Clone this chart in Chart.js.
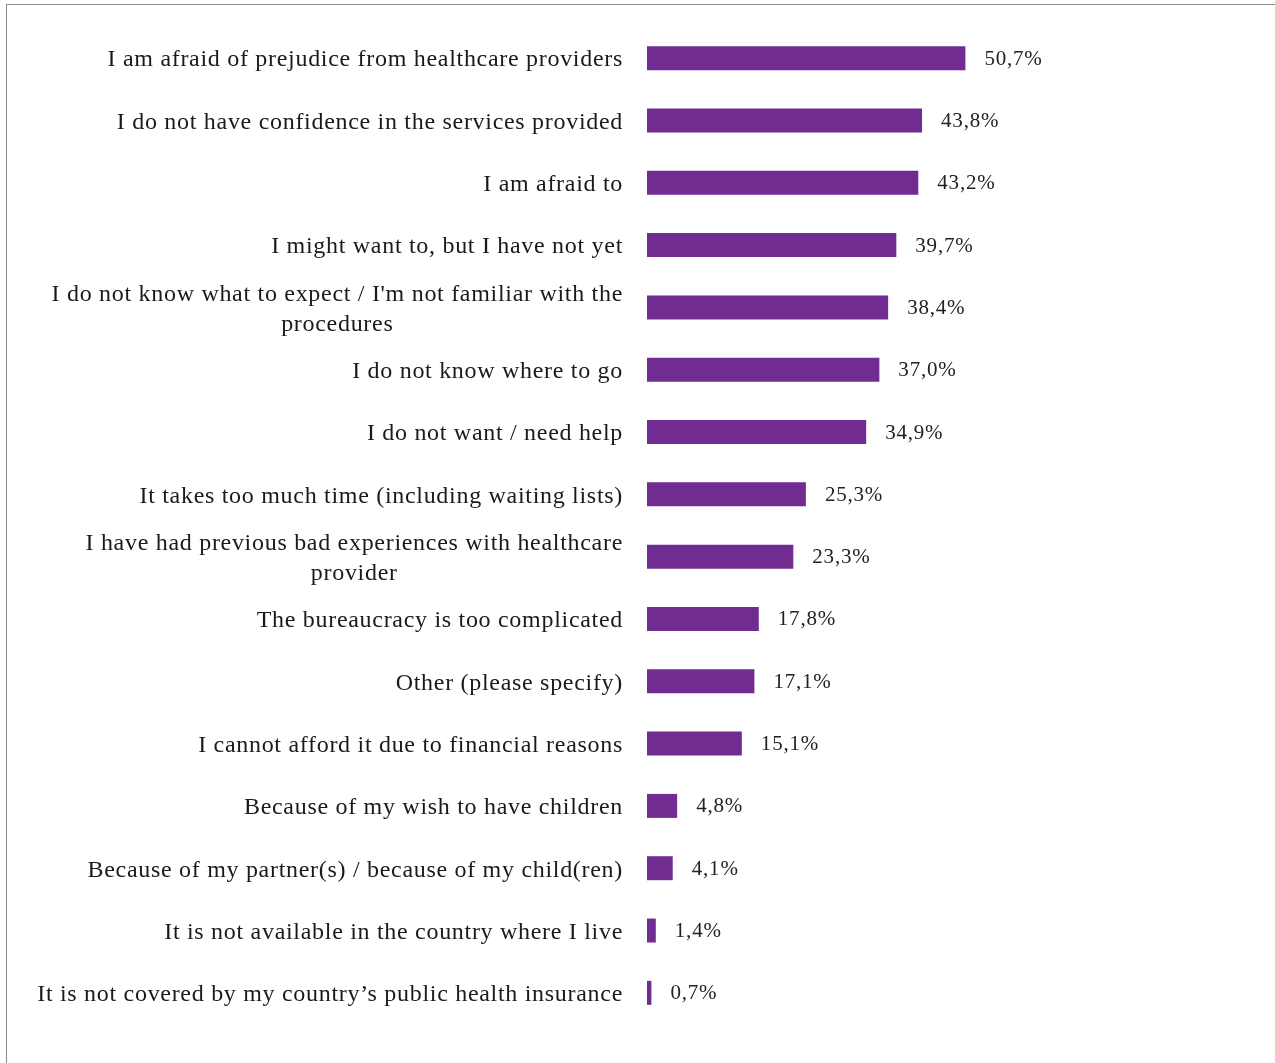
<!DOCTYPE html>
<html>
<head>
<meta charset="utf-8">
<script src="https://cdn.jsdelivr.net/npm/chart.js"></script>
<style>
  html, body { margin: 0; padding: 0; background: #fff; }
  #wrap { position: relative; width: 1275px; height: 1063px; overflow: hidden; }
  #frame {
    position: absolute; left: 6px; top: 4px; width: 1300px; height: 1100px;
    border-top: 1.5px solid #8a8a8a; border-left: 1.5px solid #8a8a8a;
  }
  canvas { position: absolute; left: 0; top: 0; }
</style>
</head>
<body>
<div id="wrap">
  <div id="frame"></div>
  <canvas id="barChart" width="1275" height="1063"></canvas>
</div>
<script>
const categories = [
  "I am afraid of prejudice from healthcare providers",
  "I do not have confidence in the services provided",
  "I am afraid to",
  "I might want to, but I have not yet",
  ["I do not know what to expect / I'm not familiar with the", "procedures"],
  "I do not know where to go",
  "I do not want / need help",
  "It takes too much time (including waiting lists)",
  ["I have had previous bad experiences with healthcare", "provider"],
  "The bureaucracy is too complicated",
  "Other (please specify)",
  "I cannot afford it due to financial reasons",
  "Because of my wish to have children",
  "Because of my partner(s) / because of my child(ren)",
  "It is not available in the country where I live",
  "It is not covered by my country\u2019s public health insurance",
];
const values = [50.7, 43.8, 43.2, 39.7, 38.4, 37.0, 34.9, 25.3, 23.3, 17.8, 17.1, 15.1, 4.8, 4.1, 1.4, 0.7];

const FONT = "'Liberation Serif', 'DejaVu Serif', serif";
const AXIS_X = 647;

const labelPlugin = {
  id: "labels",
  afterDatasetsDraw(chart) {
    const ctx = chart.ctx;
    const yScale = chart.scales.y;
    const meta = chart.getDatasetMeta(0);
    ctx.save();
    // category labels, right-aligned block, lines centered within the block
    ctx.font = "24px " + FONT;
    ctx.letterSpacing = "0.7px";
    ctx.fillStyle = "#1a1a1a";
    ctx.textBaseline = "middle";
    const right = AXIS_X - 24;
    categories.forEach((lab, i) => {
      const lines = Array.isArray(lab) ? lab : [lab];
      const y = yScale.getPixelForValue(i) + 2;
      const maxW = Math.max(...lines.map((l) => ctx.measureText(l).width));
      const cx = right - maxW / 2;
      const lh = 30;
      const y0 = y - ((lines.length - 1) * lh) / 2;
      ctx.textAlign = "center";
      lines.forEach((l, k) => ctx.fillText(l, cx, y0 + k * lh));
    });
    // value labels
    ctx.font = "21px " + FONT;
    ctx.letterSpacing = "0.8px";
    ctx.fillStyle = "#222";
    ctx.textAlign = "left";
    meta.data.forEach((bar, i) => {
      const txt = values[i].toFixed(1).replace(".", ",") + "%";
      ctx.fillText(txt, bar.x + 19, bar.y + 1);
    });
    ctx.restore();
  },
};

new Chart(document.getElementById("barChart"), {
  type: "bar",
  data: {
    labels: categories,
    datasets: [
      {
        data: values,
        backgroundColor: "#702c91",
        borderWidth: 0,
        barPercentage: 0.77,
        categoryPercentage: 0.5,
      },
    ],
  },
  options: {
    indexAxis: "y",
    responsive: false,
    animation: false,
    layout: { padding: { top: 27, bottom: 39, left: 0, right: 0 } },
    plugins: {
      legend: { display: false },
      tooltip: { enabled: false },
    },
    scales: {
      x: {
        min: 0,
        max: 100,
        display: false,
      },
      y: {
        grid: { display: false },
        border: { display: false },
        ticks: { display: false },
        afterFit(scale) {
          scale.width = AXIS_X;
        },
      },
    },
  },
  plugins: [labelPlugin],
});
</script>
</body>
</html>
